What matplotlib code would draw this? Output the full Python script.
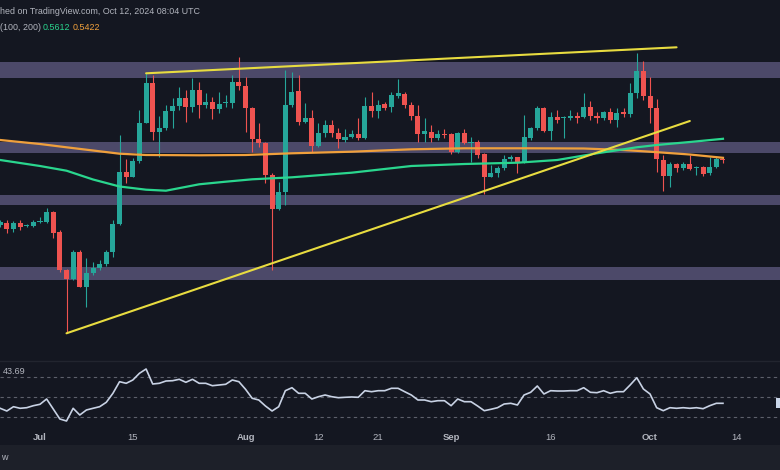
import matplotlib
matplotlib.use("Agg")
import matplotlib.pyplot as plt
import matplotlib.dates as mdates
from matplotlib.patches import Rectangle
import numpy as np
import pandas as pd

# daily candles, Jun 25 - Oct 12 2024
dates = pd.date_range("2024-06-25", "2024-10-12", freq="D")

opens = [0.4750, 0.4773, 0.4707, 0.4767, 0.4737, 0.4740, 0.4777, 0.4783, 0.4877, 0.4683,
         0.4300, 0.4207, 0.4480, 0.4133, 0.4273, 0.4317, 0.4360, 0.4483, 0.4760, 0.5277,
         0.5233, 0.5393, 0.5773, 0.6173, 0.5683, 0.5717, 0.5893, 0.5940, 0.6017, 0.5927,
         0.6100, 0.5950, 0.5977, 0.5910, 0.5967, 0.5967, 0.6183, 0.6140, 0.5917, 0.5607,
         0.5567, 0.5250, 0.4907, 0.5083, 0.5950, 0.6093, 0.5783, 0.5817, 0.5540, 0.5673,
         0.5750, 0.5673, 0.5600, 0.5633, 0.5657, 0.5623, 0.5940, 0.5893, 0.5957, 0.5933,
         0.6043, 0.6060, 0.5950, 0.5840, 0.5660, 0.5683, 0.5617, 0.5660, 0.5657, 0.5483,
         0.5667, 0.5570, 0.5583, 0.5460, 0.5233, 0.5267, 0.5317, 0.5407, 0.5427, 0.5383,
         0.5617, 0.5717, 0.5917, 0.5693, 0.5833, 0.5820, 0.5817, 0.5840, 0.5827, 0.5933,
         0.5840, 0.5817, 0.5883, 0.5800, 0.5883, 0.5860, 0.6067, 0.6293, 0.6040, 0.5917,
         0.5400, 0.5240, 0.5360, 0.5317, 0.5360, 0.5320, 0.5327, 0.5267, 0.5327, 0.5407]
highs = [0.4800, 0.4800, 0.4793, 0.4800, 0.4760, 0.4800, 0.4833, 0.4917, 0.4893, 0.4700,
         0.4307, 0.4500, 0.4500, 0.4417, 0.4383, 0.4400, 0.4500, 0.4800, 0.5650, 0.5407,
         0.5417, 0.5900, 0.6267, 0.6250, 0.5840, 0.5950, 0.6017, 0.6133, 0.6100, 0.6217,
         0.6183, 0.6067, 0.6033, 0.6083, 0.6050, 0.6250, 0.6433, 0.6233, 0.5933, 0.5767,
         0.5583, 0.5273, 0.5183, 0.6300, 0.6283, 0.6250, 0.5967, 0.5900, 0.5767, 0.5800,
         0.5800, 0.5717, 0.5707, 0.5700, 0.5817, 0.6033, 0.6083, 0.6000, 0.5983, 0.6083,
         0.6207, 0.6083, 0.5983, 0.5950, 0.5817, 0.5750, 0.5700, 0.5707, 0.5667, 0.5683,
         0.5707, 0.5633, 0.5600, 0.5467, 0.5350, 0.5340, 0.5450, 0.5450, 0.5433, 0.5850,
         0.5733, 0.5940, 0.5933, 0.5883, 0.5900, 0.5840, 0.5900, 0.5883, 0.6067, 0.5993,
         0.5883, 0.5893, 0.5917, 0.5917, 0.5917, 0.6167, 0.6473, 0.6393, 0.6227, 0.6007,
         0.5450, 0.5383, 0.5373, 0.5383, 0.5450, 0.5340, 0.5340, 0.5433, 0.5433, 0.5417]
lows = [0.4733, 0.4673, 0.4683, 0.4700, 0.4727, 0.4727, 0.4773, 0.4773, 0.4617, 0.4283,
        0.3667, 0.4200, 0.4127, 0.3933, 0.4250, 0.4300, 0.4340, 0.4433, 0.4750, 0.5167,
        0.5227, 0.5367, 0.5767, 0.5600, 0.5433, 0.5700, 0.5717, 0.5900, 0.5783, 0.5883,
        0.5817, 0.5917, 0.5807, 0.5867, 0.5933, 0.5917, 0.6100, 0.5683, 0.5483, 0.5533,
        0.5167, 0.4300, 0.4900, 0.4950, 0.5933, 0.5750, 0.5767, 0.5483, 0.5533, 0.5633,
        0.5633, 0.5517, 0.5583, 0.5617, 0.5600, 0.5607, 0.5833, 0.5817, 0.5900, 0.5883,
        0.6017, 0.5917, 0.5800, 0.5583, 0.5583, 0.5583, 0.5600, 0.5617, 0.5460, 0.5467,
        0.5560, 0.5383, 0.5417, 0.5060, 0.5227, 0.5233, 0.5300, 0.5393, 0.5267, 0.5373,
        0.5600, 0.5700, 0.5683, 0.5600, 0.5767, 0.5617, 0.5800, 0.5767, 0.5817, 0.5800,
        0.5767, 0.5800, 0.5773, 0.5727, 0.5833, 0.5833, 0.6017, 0.6000, 0.5767, 0.5283,
        0.5093, 0.5127, 0.5283, 0.5300, 0.5300, 0.5250, 0.5240, 0.5250, 0.5317, 0.5367]
closes = [0.4783, 0.4707, 0.4773, 0.4727, 0.4743, 0.4783, 0.4790, 0.4877, 0.4673, 0.4300,
          0.4207, 0.4480, 0.4133, 0.4273, 0.4317, 0.4360, 0.4483, 0.4760, 0.5277, 0.5227,
          0.5393, 0.5773, 0.6173, 0.5683, 0.5717, 0.5893, 0.5940, 0.6017, 0.5927, 0.6100,
          0.5950, 0.5983, 0.5910, 0.5960, 0.5983, 0.6183, 0.6140, 0.5917, 0.5607, 0.5567,
          0.5250, 0.4907, 0.5083, 0.5950, 0.6083, 0.5783, 0.5817, 0.5540, 0.5673, 0.5750,
          0.5673, 0.5607, 0.5633, 0.5657, 0.5623, 0.5940, 0.5893, 0.5950, 0.5923, 0.6050,
          0.6067, 0.5950, 0.5840, 0.5660, 0.5693, 0.5617, 0.5660, 0.5650, 0.5483, 0.5667,
          0.5573, 0.5583, 0.5450, 0.5233, 0.5273, 0.5317, 0.5407, 0.5427, 0.5383, 0.5627,
          0.5717, 0.5917, 0.5693, 0.5833, 0.5800, 0.5827, 0.5840, 0.5817, 0.5933, 0.5840,
          0.5817, 0.5883, 0.5800, 0.5873, 0.5860, 0.6067, 0.6293, 0.6040, 0.5917, 0.5407,
          0.5240, 0.5360, 0.5317, 0.5360, 0.5307, 0.5327, 0.5260, 0.5327, 0.5407, 0.5400]

rsi = [38.7, 36.0, 40.3, 38.7, 39.3, 41.3, 42.7, 48.0, 38.0, 28.0,
       26.0, 38.7, 32.0, 37.0, 38.7, 40.3, 44.7, 53.7, 65.3, 63.7,
       67.0, 73.7, 78.0, 63.0, 63.7, 66.0, 66.3, 67.7, 64.7, 67.7,
       63.7, 63.7, 61.3, 62.0, 62.7, 67.0, 65.3, 57.7, 48.7, 47.0,
       41.0, 36.0, 40.3, 56.3, 59.3, 53.7, 53.7, 48.0, 50.3, 52.0,
       50.3, 49.3, 49.7, 50.0, 49.7, 56.3, 55.3, 56.3, 56.3, 58.7,
       58.7, 55.3, 52.0, 47.0, 47.0, 45.3, 46.3, 46.3, 41.3, 48.0,
       45.3, 45.3, 41.0, 36.3, 37.7, 39.3, 43.0, 43.7, 42.0, 52.0,
       54.7, 61.0, 53.0, 56.3, 56.0, 56.0, 56.3, 56.3, 59.3, 54.7,
       54.3, 56.3, 53.7, 55.3, 55.3, 62.0, 69.3, 58.0, 53.0, 39.3,
       36.3, 39.3, 38.7, 39.3, 38.7, 39.3, 38.3, 41.3, 43.7, 43.69]

# moving averages
ma200_dates = ["2024-06-25", "2024-07-01", "2024-07-05", "2024-07-09", "2024-07-13", "2024-07-17",
               "2024-07-25", "2024-08-01", "2024-08-08", "2024-08-17", "2024-08-26", "2024-09-03",
               "2024-09-13", "2024-09-21", "2024-09-27", "2024-10-01", "2024-10-07", "2024-10-12"]
ma200 = [0.560, 0.556, 0.5527, 0.5495, 0.5463, 0.545, 0.5447, 0.545, 0.5467, 0.5483,
         0.5507, 0.5517, 0.5517, 0.5515, 0.550, 0.5483, 0.5455, 0.5422]
ma100_dates = ["2024-06-25", "2024-07-01", "2024-07-05", "2024-07-09", "2024-07-13", "2024-07-17",
               "2024-07-20", "2024-07-25", "2024-07-29", "2024-08-02", "2024-08-08", "2024-08-17",
               "2024-08-26", "2024-08-30", "2024-09-03", "2024-09-11", "2024-09-17", "2024-09-23",
               "2024-09-29", "2024-10-02", "2024-10-07", "2024-10-12"]
ma100 = [0.540, 0.534, 0.5293, 0.5205, 0.5135, 0.5103, 0.5093, 0.5157, 0.5183, 0.5207,
         0.5227, 0.5273, 0.534, 0.535, 0.536, 0.5373, 0.540, 0.5467, 0.5527, 0.555,
         0.558, 0.5612]

# drawings
zones = [(0.622, 0.638), (0.547, 0.558), (0.495, 0.505), (0.420, 0.433)]
trend_upper = (["2024-07-17", "2024-10-05"], [0.6267, 0.6527])
trend_lower = (["2024-07-05", "2024-10-07"], [0.3667, 0.579])

tick_dates = ["2024-07-01", "2024-07-15", "2024-08-01", "2024-08-12", "2024-08-21",
              "2024-09-01", "2024-09-16", "2024-10-01", "2024-10-14"]
tick_labels = ["Jul", "15", "Aug", "12", "21", "Sep", "16", "Oct", "14"]

BG = "#141721"
UP = "#26a69a"
DOWN = "#ef5350"
ZONE = "#4c4969"
TXT = "#b2b5be"
W, H = 780, 470

plt.rcParams['font.family'] = ['Liberation Sans', 'DejaVu Sans']


def box(x0, y0, x1, y1):
    return [x0 / W, 1 - y1 / H, (x1 - x0) / W, (y1 - y0) / H]


fig = plt.figure(figsize=(7.8, 4.7), dpi=100, facecolor=BG)
xnum = mdates.date2num(dates)
xlim = (mdates.date2num(pd.Timestamp("2024-07-01")) - 6.03,
        mdates.date2num(pd.Timestamp("2024-07-01")) + 111.6)

# price pane
ax = fig.add_axes(box(0, 0, 780, 360))
ax.set_facecolor(BG)
for lo, hi in zones:
    ax.axhspan(lo, hi, color=ZONE, lw=0, zorder=1)

o = np.array(opens); c = np.array(closes)
cols = [UP if cc >= oo else DOWN for oo, cc in zip(o, c)]
ax.vlines(xnum, lows, highs, colors=cols, lw=0.8, zorder=3)
ax.bar(xnum, np.maximum(np.abs(c - o), 0.0009), width=0.76, bottom=np.minimum(o, c),
       color=cols, lw=0, zorder=3)

ax.plot(mdates.date2num(pd.to_datetime(ma200_dates)), ma200, color="#f0a03c", lw=1.6, zorder=4)
ax.plot(mdates.date2num(pd.to_datetime(ma100_dates)), ma100, color="#2ad68e", lw=1.6, zorder=4)
for td, tp in (trend_upper, trend_lower):
    ax.plot(mdates.date2num(pd.to_datetime(td)), tp, color="#e8dc40", lw=1.5, zorder=5,
            solid_capstyle="round")

ax.set_xlim(xlim)
ax.set_ylim(0.340, 0.700)
ax.axis("off")

# RSI pane
rax = fig.add_axes(box(0, 361, 780, 428))
rax.set_facecolor(BG)
for lvl in (70, 50, 30):
    rax.axhline(lvl, color="#5d606b", lw=0.8, ls=(0, (3, 3)), zorder=1)
rax.plot(xnum, rsi, color="#c8d2e4", lw=1.2, zorder=3)
rax.set_xlim(xlim)
rax.set_ylim(19, 86)
for s in rax.spines.values():
    s.set_visible(False)
rax.set_yticks([])
rax.set_xticks(mdates.date2num(pd.to_datetime(tick_dates)))
rax.set_xticklabels(tick_labels)
rax.tick_params(axis="x", length=0, pad=3.5, labelsize=6.8, labelcolor=TXT)
for lab in rax.get_xticklabels():
    if not lab.get_text().isdigit():
        lab.set_fontweight("bold")
rax.text(0.004, 71.3, "43.69", transform=rax.get_yaxis_transform(), fontsize=6.6,
         color=TXT, va="bottom", ha="left")

# pane separator, bottom strip, cut price label
fig.add_artist(plt.Line2D([0, 1], [1 - 360.5 / H, 1 - 360.5 / H], color="#22252f", lw=1))
fig.add_artist(Rectangle((0, 0), 1, 25 / H, color="#1d2029", lw=0))
fig.add_artist(Rectangle((776 / W, 1 - 408 / H), 4 / W, 10 / H, color="#c9d6ea", lw=0))
fig.text(1 / W, 1 - 458 / H, "w", fontsize=6.5, color=TXT, va="center", ha="left")

# header
fig.text(0, 1 - 11 / H, "hed on TradingView.com, Oct 12, 2024 08:04 UTC", fontsize=6.4,
         color=TXT, va="center", ha="left")
fig.text(0, 1 - 28 / H, "(100, 200)", fontsize=6.4, color=TXT, va="center", ha="left")
fig.text(43 / W, 1 - 28 / H, "0.5612", fontsize=6.4, color="#2ad68e", va="center", ha="left")
fig.text(73 / W, 1 - 28 / H, "0.5422", fontsize=6.4, color="#f0a03c", va="center", ha="left")

fig.savefig("out.png", dpi=100, facecolor=BG)
